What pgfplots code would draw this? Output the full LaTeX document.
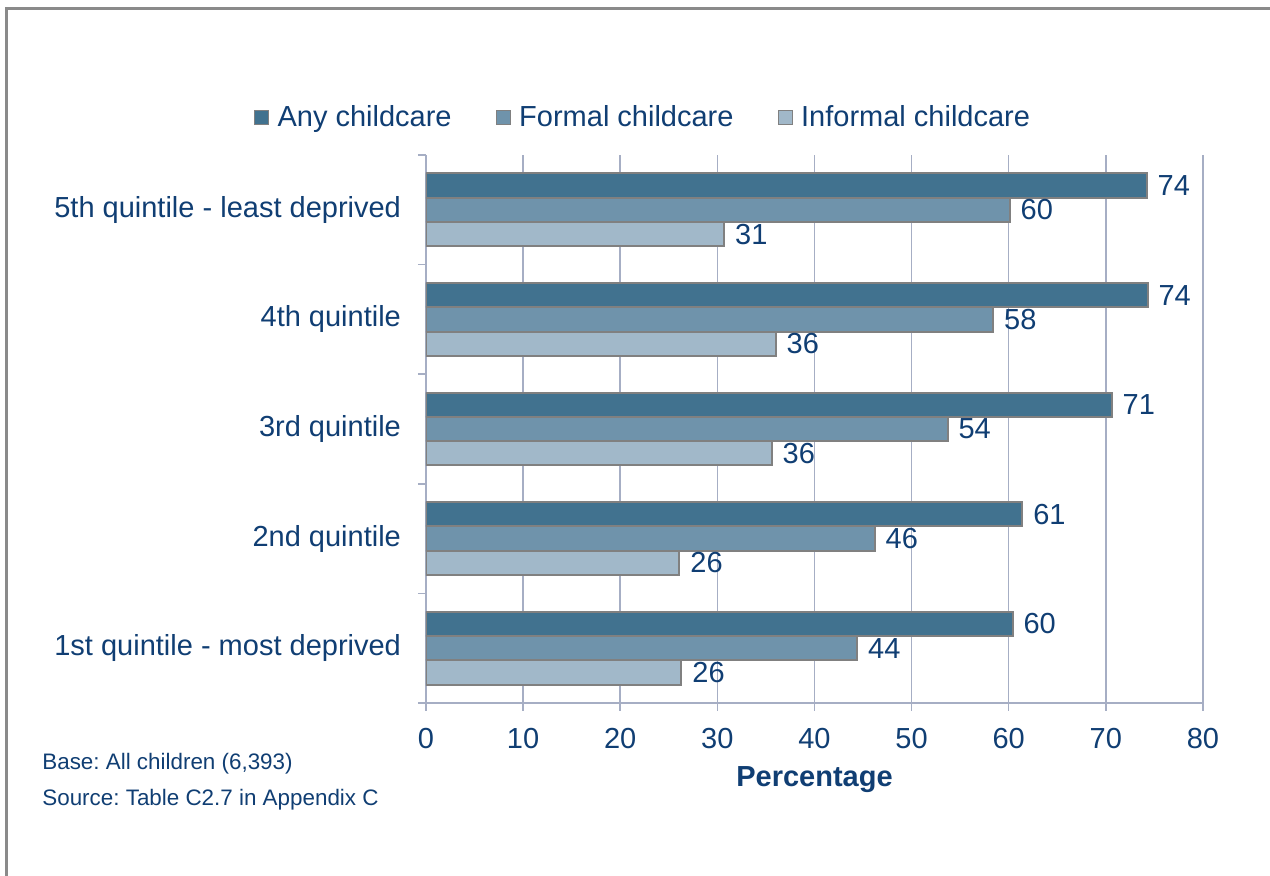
\documentclass[border=0pt]{standalone}
\usepackage{fontspec}
\setmainfont{Liberation Sans}
\usepackage{pgfplots}
\usepackage{pgfplotstable}
\pgfplotsset{compat=1.18}
\frenchspacing
\definecolor{anyc}{RGB}{65,114,143}
\definecolor{formc}{RGB}{111,147,171}
\definecolor{infc}{RGB}{161,184,201}
\definecolor{txt}{RGB}{16,62,115}
\definecolor{gridc}{RGB}{166,174,196}
\definecolor{edgec}{RGB}{128,128,128}
\definecolor{framec}{RGB}{138,138,138}

% 0 = 1st quintile (bottom) ... 4 = 5th quintile (top)
\pgfplotstableread{
pos any formal informal
0 60.4 44.4 26.3
1 61.4 46.2 26.1
2 70.6 53.7 35.6
3 74.3 58.4 36.0
4 74.2 60.1 30.7
}\quintiles

\newcommand{\bigf}{\fontsize{14.5}{17}\selectfont}

\begin{document}
\begin{tikzpicture}
\begin{axis}[
  scale only axis, width=388.5pt, height=274pt,
  xbar, bar width=12.15pt,
  xmin=0, xmax=80, ymin=-0.5, ymax=4.5,
  xtick={0,10,...,80},
  ytick={0,...,4},
  yticklabels={1st quintile - most deprived, 2nd quintile, 3rd quintile, 4th quintile, 5th quintile - least deprived},
  minor ytick={-0.5,0.5,...,4.5},
  axis x line*=bottom, axis y line*=left,
  axis line style={gridc, line width=0.75pt},
  xmajorgrids, major grid style={gridc, line width=0.75pt},
  tick align=outside, major tick length=4pt, minor tick length=4pt,
  x tick style={gridc, line width=0.75pt},
  y tick style={draw=none},
  minor y tick style={draw=gridc, line width=0.75pt},
  ticklabel style={font=\bigf, text=txt},
  xticklabel style={yshift=-5pt},
  yticklabel style={xshift=-5pt},
  /pgf/number format/assume math mode=true,
  /pgf/number format/fixed, /pgf/number format/precision=0,
  xlabel={\textbf{Percentage}},
  xlabel style={font=\bigf, text=txt, yshift=-2pt},
  nodes near coords, point meta=x,
  every node near coord/.append style={font=\bigf, text=txt, anchor=west, inner sep=1pt, xshift=4pt},
  legend style={at={(axis description cs:0.2806,1.069)}, anchor=center, draw=none, fill=none,
    legend columns=-1, font=\bigf, text=txt,
    /tikz/every even column/.append style={column sep=20pt}},
]
\addplot[fill=anyc, draw=edgec, line width=1pt, bar shift=12.15pt,
  legend image code/.code={\draw[fill=anyc,draw=edgec,line width=0.6pt] (0pt,-3.5pt) rectangle (7pt,3.5pt); \path (9pt,0pt);}]
  table[x=any, y=pos]{\quintiles};
\addplot[fill=formc, draw=edgec, line width=1pt, bar shift=0pt,
  legend image code/.code={\draw[fill=formc,draw=edgec,line width=0.6pt] (0pt,-3.5pt) rectangle (7pt,3.5pt); \path (9pt,0pt);}]
  table[x=formal, y=pos]{\quintiles};
\addplot[fill=infc, draw=edgec, line width=1pt, bar shift=-12.15pt,
  legend image code/.code={\draw[fill=infc,draw=edgec,line width=0.6pt] (0pt,-3.5pt) rectangle (7pt,3.5pt); \path (9pt,0pt);}]
  table[x=informal, y=pos]{\quintiles};
\legend{Any childcare, Formal childcare, Informal childcare}
\end{axis}
% pixel coordinates of the reference (origin top left)
\begin{scope}[x=0.5pt, y=-0.5pt, shift={(-426,-703)}]
  \draw[framec, line width=1.5pt] (7,876) -- (7,9) -- (1270,9);
  \node[anchor=west, inner sep=0pt, text=txt, font=\fontsize{11.2}{13}\selectfont] at (42,764) {Base: All children (6,393)};
  \node[anchor=west, inner sep=0pt, text=txt, font=\fontsize{11.2}{13}\selectfont] at (42,800) {Source: Table C2.7 in Appendix C};
  \pgfresetboundingbox
  \path[use as bounding box] (0,0) rectangle (1270,876);
\end{scope}
\end{tikzpicture}
\end{document}
